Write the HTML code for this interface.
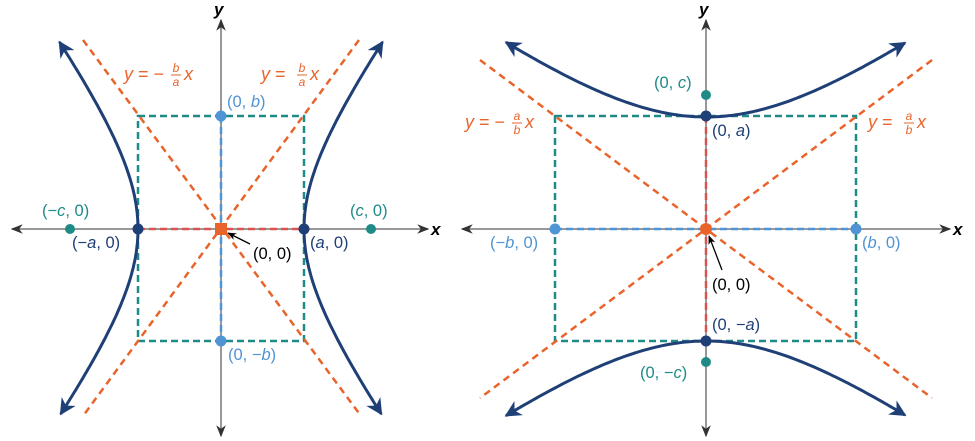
<!DOCTYPE html>
<html><head><meta charset="utf-8"><style>
html,body{margin:0;padding:0;background:#fff;}
svg{display:block;font-family:"Liberation Sans",sans-serif;font-size:16.5px;}
</style></head><body>
<svg width="975" height="441" viewBox="0 0 975 441" xmlns="http://www.w3.org/2000/svg">
<defs>
<marker id="ga" viewBox="0 0 10 10" refX="9" refY="5" markerWidth="8" markerHeight="8" orient="auto-start-reverse"><path d="M0,1 L10,5 L0,9 L3,5z" fill="#333"/></marker>
<marker id="na" viewBox="0 0 10 10" refX="9" refY="5" markerWidth="5.5" markerHeight="5.5" orient="auto-start-reverse"><path d="M0,0 L10,5 L0,10 L3,5z" fill="#1f3f77"/></marker>
<marker id="ka" viewBox="0 0 10 10" refX="9" refY="5" markerWidth="7" markerHeight="7" orient="auto"><path d="M0,1 L10,5 L0,9 L3,5z" fill="#000"/></marker>
</defs>
<g>
<line x1="12" y1="229" x2="428" y2="229" stroke="#777" stroke-width="1.5" marker-start="url(#ga)" marker-end="url(#ga)"/>
<line x1="221" y1="20" x2="221" y2="436" stroke="#777" stroke-width="1.5" marker-start="url(#ga)" marker-end="url(#ga)"/>
<line x1="221" y1="116" x2="221" y2="341" stroke="#4f94d4" stroke-width="2.5" stroke-dasharray="7,4"/>
<line x1="138" y1="229" x2="304" y2="229" stroke="#d9534f" stroke-width="2.5" stroke-dasharray="7,4"/>
<rect x="138" y="116" width="166" height="225" fill="none" stroke="#1e8b87" stroke-width="2.5" stroke-dasharray="7,4"/>
<line x1="83" y1="40" x2="361" y2="416" stroke="#e8642b" stroke-width="2.5" stroke-dasharray="7,5"/>
<line x1="359" y1="40" x2="83" y2="416" stroke="#e8642b" stroke-width="2.5" stroke-dasharray="7,5"/>
</g>
<g>
<line x1="462" y1="229" x2="950" y2="229" stroke="#777" stroke-width="1.5" marker-start="url(#ga)" marker-end="url(#ga)"/>
<line x1="706" y1="20" x2="706" y2="436" stroke="#777" stroke-width="1.5" marker-start="url(#ga)" marker-end="url(#ga)"/>
<line x1="706" y1="116" x2="706" y2="341" stroke="#d9534f" stroke-width="2.5" stroke-dasharray="7,4"/>
<line x1="555" y1="229" x2="856" y2="229" stroke="#4f94d4" stroke-width="2.5" stroke-dasharray="7,4"/>
<rect x="555" y="116" width="301" height="225" fill="none" stroke="#1e8b87" stroke-width="2.5" stroke-dasharray="7,4"/>
<line x1="480" y1="60" x2="932" y2="398" stroke="#e8642b" stroke-width="2.5" stroke-dasharray="7,5"/>
<line x1="932" y1="60" x2="480" y2="398" stroke="#e8642b" stroke-width="2.5" stroke-dasharray="7,5"/>
</g>
<g id="curves" fill="none" stroke="#1f3f77" stroke-width="3"></g>
<script>
(function(){
var g=document.getElementById('curves'),ns='http://www.w3.org/2000/svg';
function add(pts){var p=document.createElementNS(ns,'path');p.setAttribute('d','M'+pts.map(function(q){return q[0].toFixed(1)+','+q[1].toFixed(1)}).join(' L'));p.setAttribute('marker-start','url(#na)');p.setAttribute('marker-end','url(#na)');g.appendChild(p);}
var a=83,b=112,L=[],R=[],i,t;
for(i=-187;i<=187;i+=3){t=a*Math.sqrt(1+(i/b)*(i/b));L.push([221-t,229+i]);R.push([221+t,229+i]);}
add(L);add(R);
var a2=112,b2=150,T=[],B=[];
for(i=-200;i<=200;i+=3){t=a2*Math.sqrt(1+(i/b2)*(i/b2));T.push([706+i,229-t]);B.push([706+i,229+t]);}
add(T);add(B);
})();
</script>
<rect x="215" y="223" width="12" height="12" fill="#e8642b"/>
<circle cx="706" cy="229" r="6" fill="#e8642b"/>
<g fill="#1f3f77"><circle cx="138" cy="229" r="5.5"/><circle cx="304" cy="229" r="5.5"/><circle cx="706" cy="116" r="5.5"/><circle cx="706" cy="341" r="5.5"/></g>
<g fill="#4f94d4"><circle cx="221" cy="116" r="5.5"/><circle cx="221" cy="341" r="5.5"/><circle cx="555" cy="229" r="5.5"/><circle cx="856" cy="229" r="5.5"/></g>
<g fill="#1e8b87"><circle cx="70" cy="229" r="5"/><circle cx="371" cy="229" r="5"/><circle cx="706" cy="95" r="5"/><circle cx="706" cy="362" r="5"/></g>
<line x1="250" y1="244" x2="228" y2="233" stroke="#000" stroke-width="1.3" marker-end="url(#ka)"/>
<line x1="722" y1="270" x2="709" y2="236" stroke="#000" stroke-width="1.3" marker-end="url(#ka)"/>
<g font-style="italic" font-weight="bold" fill="#000" font-size="17">
<text x="214" y="15">y</text><text x="431" y="235">x</text>
<text x="699" y="15">y</text><text x="953" y="235">x</text>
</g>
<g fill="#e8642b" font-size="18">
<text x="124" y="80"><tspan font-style="italic">y</tspan> = −</text>
<text x="176" y="72" font-size="12" font-style="italic" text-anchor="middle">b</text><line x1="171" y1="75" x2="181" y2="75" stroke="#e8642b"/><text x="176" y="86" font-size="12" font-style="italic" text-anchor="middle">a</text>
<text x="184" y="80" font-style="italic">x</text>
<text x="261" y="80"><tspan font-style="italic">y</tspan> =</text>
<text x="302" y="72" font-size="12" font-style="italic" text-anchor="middle">b</text><line x1="297" y1="75" x2="307" y2="75" stroke="#e8642b"/><text x="302" y="86" font-size="12" font-style="italic" text-anchor="middle">a</text>
<text x="310" y="80" font-style="italic">x</text>
<text x="465" y="128"><tspan font-style="italic">y</tspan> = −</text>
<text x="517" y="120" font-size="12" font-style="italic" text-anchor="middle">a</text><line x1="512" y1="123" x2="522" y2="123" stroke="#e8642b"/><text x="517" y="134" font-size="12" font-style="italic" text-anchor="middle">b</text>
<text x="525" y="128" font-style="italic">x</text>
<text x="868" y="128"><tspan font-style="italic">y</tspan> =</text>
<text x="909" y="120" font-size="12" font-style="italic" text-anchor="middle">a</text><line x1="904" y1="123" x2="914" y2="123" stroke="#e8642b"/><text x="909" y="134" font-size="12" font-style="italic" text-anchor="middle">b</text>
<text x="917" y="128" font-style="italic">x</text>
</g>
<g fill="#4f94d4">
<text x="227" y="107">(0, <tspan font-style="italic">b</tspan>)</text>
<text x="228" y="360">(0, −<tspan font-style="italic">b</tspan>)</text>
<text x="490" y="248">(−<tspan font-style="italic">b</tspan>, 0)</text>
<text x="862" y="248">(<tspan font-style="italic">b</tspan>, 0)</text>
</g>
<g fill="#1e8b87">
<text x="42" y="216">(−<tspan font-style="italic">c</tspan>, 0)</text>
<text x="350" y="216">(<tspan font-style="italic">c</tspan>, 0)</text>
<text x="654" y="88">(0, <tspan font-style="italic">c</tspan>)</text>
<text x="640" y="378">(0, −<tspan font-style="italic">c</tspan>)</text>
</g>
<g fill="#1f3f77">
<text x="72" y="248">(−<tspan font-style="italic">a</tspan>, 0)</text>
<text x="310" y="248">(<tspan font-style="italic">a</tspan>, 0)</text>
<text x="712" y="136">(0, <tspan font-style="italic">a</tspan>)</text>
<text x="712" y="330">(0, −<tspan font-style="italic">a</tspan>)</text>
</g>
<text x="253" y="259" fill="#000">(0, 0)</text>
<text x="712" y="290" fill="#000">(0, 0)</text>
</svg>
</body></html>
